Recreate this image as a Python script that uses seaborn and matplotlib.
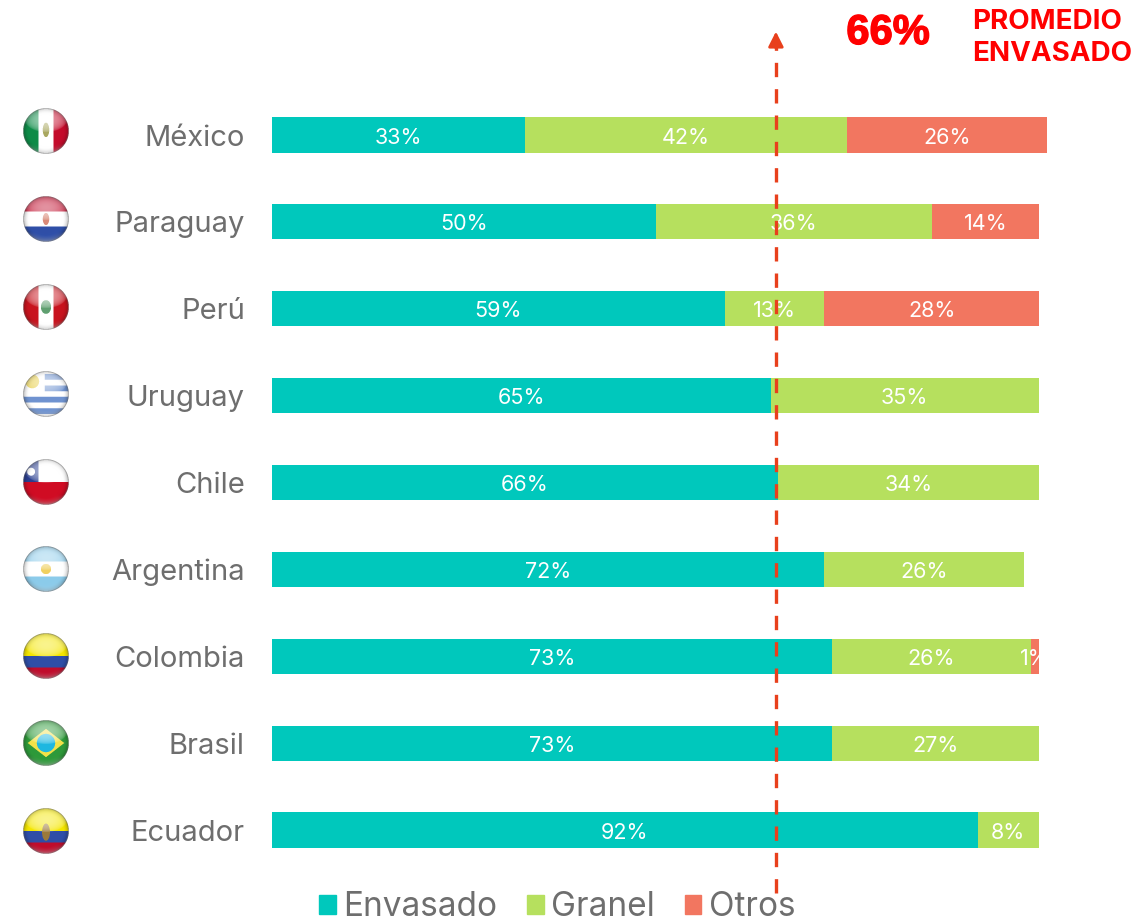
import numpy as np
import pandas as pd
import seaborn as sns
import matplotlib
matplotlib.use('Agg')
import matplotlib.pyplot as plt
import matplotlib.patheffects as pe
from matplotlib.patches import Patch, Rectangle
from matplotlib.offsetbox import AnnotationBbox, OffsetImage

paises = ['México', 'Paraguay', 'Perú', 'Uruguay', 'Chile', 'Argentina', 'Colombia', 'Brasil', 'Ecuador']
envasado = [33, 50, 59, 65, 66, 72, 73, 73, 92]
granel = [42, 36, 13, 35, 34, 26, 26, 27, 8]
otros = [26, 14, 28, 0, 0, 0, 1, 0, 0]
promedio = 66

TEAL = '#00C8BC'
GREEN = '#B6E05E'
SALMON = '#F27660'
GREY = '#6E6E6E'
ARROW = '#E8401C'
FONT = 'Inter'

W, H = 1134, 924
LEFT, PX_PER_PCT = 272, 7.67
FIRST_ROW, ROW_STEP = 135, 86.875

FLAG_X = -29.5
FLAG_DY = [4, 3, 2, 2, 1, 0, 0, 0, -1]


def flag_image(name, size=46, ss=4):
    n = size * ss
    v, u = np.mgrid[-1:1:n * 1j, -1:1:n * 1j]
    img = np.ones((n, n, 3))

    def paint(mask, color):
        img[mask] = matplotlib.colors.to_rgb(color)

    if name == 'México':
        paint(u < -0.33, '#0E8C48'); paint(u > 0.33, '#C40C2C')
        paint(u ** 2 / 0.02 + (v + 0.05) ** 2 / 0.1 < 1, '#A9A860')
    elif name == 'Paraguay':
        paint(v < -0.33, '#C00C2C'); paint(v > 0.33, '#2F4FA8')
        paint(u ** 2 / 0.02 + v ** 2 / 0.07 < 1, '#D98A78')
    elif name == 'Perú':
        paint(np.abs(u) > 0.33, '#C8141E')
        paint(u ** 2 / 0.05 + v ** 2 / 0.09 < 1, '#5FA070')
    elif name == 'Uruguay':
        paint((np.round((v + 1) * 4) % 2 == 1), '#6F93D0')
        paint((u < -0.05) & (v < -0.05), '#FFFFFF')
        paint((u + 0.6) ** 2 + (v + 0.55) ** 2 < 0.09, '#E8D050')
    elif name == 'Chile':
        paint(v > 0, '#D00C24')
        paint((u < -0.33) & (v <= 0), '#2A3F90')
        paint((u + 0.65) ** 2 + (v + 0.45) ** 2 < 0.03, '#FFFFFF')
    elif name == 'Argentina':
        paint(np.abs(v) > 0.33, '#8CCBEA')
        paint(u ** 2 + v ** 2 < 0.05, '#F0D060')
    elif name in ('Colombia', 'Ecuador'):
        paint(v < 0, '#F4E600'); paint(v >= 0, '#2F4FA8'); paint(v > 0.5, '#C00C2C')
        if name == 'Ecuador':
            paint(u ** 2 / 0.03 + (v - 0.05) ** 2 / 0.14 < 1, '#9C7A3A')
    elif name == 'Brasil':
        paint(u == u, '#2E9A3A')
        paint(np.abs(u) / 0.8 + np.abs(v) / 0.62 < 1, '#F2E24A')
        paint(u ** 2 + v ** 2 < 0.16, '#1FB8E0')

    r = np.sqrt(u ** 2 + v ** 2)
    # brillo arriba y borde oscuro
    gloss = np.clip(1 - (u ** 2 / 0.85 + (v + 0.5) ** 2 / 0.3), 0, 1) ** 0.5 * 0.55
    rim = np.clip((v - 0.55) / 0.4, 0, 1) * np.clip((r - 0.7) / 0.3, 0, 1) * 0.35
    dark = np.clip((r - 0.72) / 0.28, 0, 1) ** 2 * 0.3
    img = img * (1 - dark[..., None])
    img = img + (1 - img) * (gloss + rim)[..., None]
    edge = (r > 0.96)
    img[edge] = img[edge] * 0.55 + 0.2
    alpha = (r <= 1).astype(float)
    rgba = np.dstack([img, alpha])
    rgba = rgba.reshape(size, ss, size, ss, 4).mean(axis=(1, 3))
    return np.clip(rgba, 0, 1)


df = pd.DataFrame({'pais': paises, 'Envasado': envasado, 'Granel': granel, 'Otros': otros})
df['hasta_granel'] = df['Envasado'] + df['Granel']
df['total'] = df['hasta_granel'] + df['Otros']

sns.set_theme(style='white')
plt.rcParams['font.family'] = [FONT, 'DejaVu Sans']

fig = plt.figure(figsize=(W / 100, H / 100), dpi=100)
ax = fig.add_axes([LEFT / W, 0, 1 - LEFT / W, 1])

for col, color in [('total', SALMON), ('hasta_granel', GREEN), ('Envasado', TEAL)]:
    sns.barplot(data=df, y='pais', x=col, order=paises, color=color, saturation=1, width=0.405,
                linewidth=0, ax=ax)

ax.set_xlim(0, (W - LEFT) / PX_PER_PCT)
ax.set_ylim((H - FIRST_ROW) / ROW_STEP, -FIRST_ROW / ROW_STEP)
ax.set_xlabel('')
ax.set_ylabel('')
ax.xaxis.set_visible(False)
ax.tick_params(axis='y', length=0, pad=19.5, labelsize=21, labelcolor=GREY)
sns.despine(ax=ax, left=True, bottom=True)

# etiquetas de cada tramo
for i, row in df.iterrows():
    start = 0
    for col in ['Envasado', 'Granel', 'Otros']:
        val = row[col]
        if val > 0:
            clip = Rectangle((0, i - 0.5), 100.2, 1, transform=ax.transData)
            t = ax.text(start + val / 2, i + 0.03, f'{val}%', ha='center', va='center', color='white',
                        fontsize=15.5, clip_on=True, zorder=4)
            t.set_clip_path(clip)
        start += val

# banderas
for i, pais in enumerate(paises):
    box = AnnotationBbox(OffsetImage(flag_image(pais), zoom=1, dpi_cor=False), (FLAG_X, i),
                         xybox=(0, FLAG_DY[i] * 0.72), boxcoords='offset points',
                         frameon=False, annotation_clip=False, pad=0, box_alignment=(0.5, 0.5))
    ax.add_artist(box)

# linea de promedio
linea = promedio - 0.3
ax.plot([linea, linea], [8.73, -1.02], color=ARROW, lw=2.4, linestyle=(0, (4.3, 3.6)), zorder=5)
ax.annotate('', xy=(linea, -1.19), xytext=(linea, -1.0),
            arrowprops=dict(arrowstyle='-|>,head_width=0.38,head_length=0.75', color=ARROW, lw=2, shrinkA=0, shrinkB=0),
            zorder=5)

titulo = fig.text(888 / W, 1 - 33 / H, f'{promedio}%', color='#FF0000', fontsize=30, fontweight='bold',
                  family='Liberation Sans', ha='center', va='center')
titulo.set_path_effects([pe.withStroke(linewidth=1, foreground='#FF0000')])
fig.text(972 / W, 1 - 38 / H, 'PROMEDIO\nENVASADO', color='#FF0000', fontsize=20, fontweight='bold',
         family=FONT, ha='left', va='center', linespacing=1.3)

handles = [Patch(color=TEAL, label='Envasado'), Patch(color=GREEN, label='Granel'), Patch(color=SALMON, label='Otros')]
leg = ax.legend(handles=handles, loc='lower left', bbox_to_anchor=(319 / W, 1 / H), bbox_transform=fig.transFigure,
                ncol=3, frameon=False, fontsize=24, handlelength=0.5, handleheight=0.5, handletextpad=0.22,
                columnspacing=0.9, borderaxespad=0, borderpad=0)
for t in leg.get_texts():
    t.set_color(GREY)

fig.savefig('out.png', dpi=100)
